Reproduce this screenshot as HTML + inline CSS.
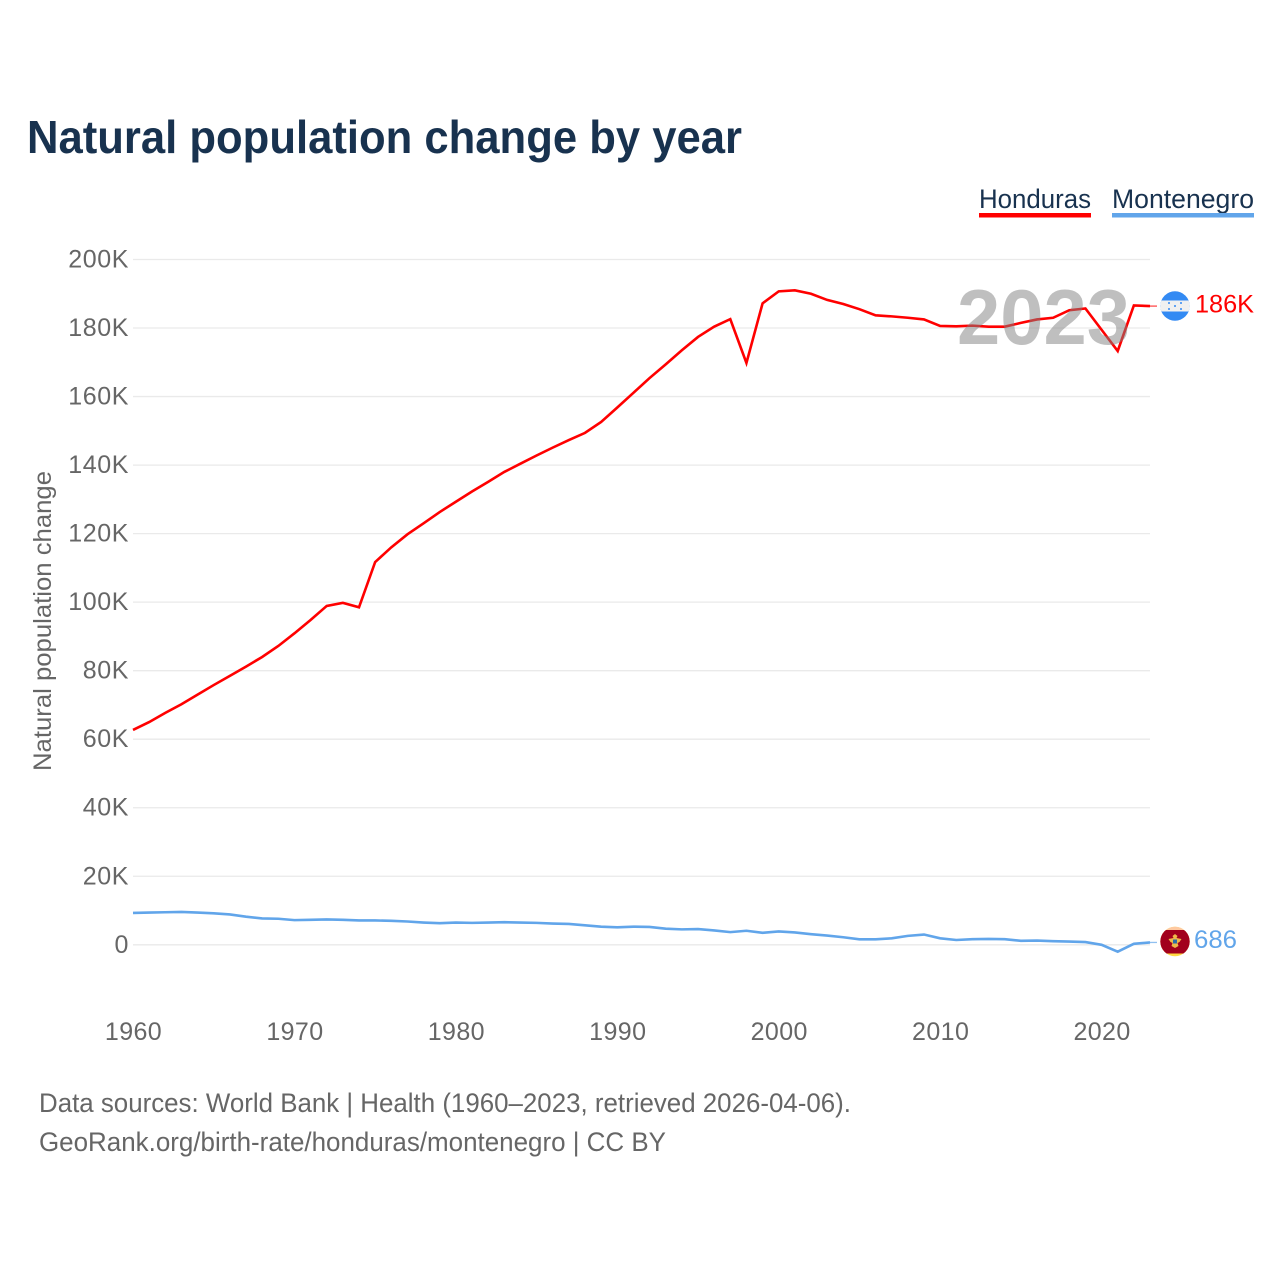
<!DOCTYPE html>
<html lang="en">
<head>
<meta charset="utf-8">
<title>Natural population change by year</title>
<style>
  html, body { margin: 0; padding: 0; background: #fff; }
  svg { display: block; font-family: "Liberation Sans", sans-serif; }
</style>
</head>
<body>
<svg id="chart" xmlns="http://www.w3.org/2000/svg" width="1280" height="1280" viewBox="0 0 1280 1280">
  <rect x="0" y="0" width="1280" height="1280" fill="#ffffff"/>
  <text x="27" y="153" font-size="46" font-weight="700" fill="#18324f" textLength="715" lengthAdjust="spacingAndGlyphs">Natural population change by year</text>

  <g>
    <text x="979" y="208" font-size="27" fill="#18324f" textLength="112" lengthAdjust="spacingAndGlyphs">Honduras</text>
    <rect x="979" y="213" width="112" height="4.5" fill="#ff0000"/>
  </g>
  <g>
    <text x="1112" y="208" font-size="27" fill="#18324f" textLength="142" lengthAdjust="spacingAndGlyphs">Montenegro</text>
    <rect x="1112" y="213" width="142" height="4.5" fill="#61a5ea"/>
  </g>

  <g id="grid"></g>
  <g id="yticks"></g>
  <g id="xticks"></g>
  <text transform="translate(51 621) rotate(-90)" text-anchor="middle" font-size="25" fill="#666666" textLength="300" lengthAdjust="spacingAndGlyphs">Natural population change</text>

  <g id="series"></g>

  <text x="957" y="344" font-size="78" font-weight="700" fill="#808080" fill-opacity="0.5" textLength="173" lengthAdjust="spacingAndGlyphs">2023</text>

  <defs>
    <clipPath id="clip-hn"><circle cx="1175" cy="306" r="14.7"/></clipPath>
    <clipPath id="clip-me"><circle cx="1175" cy="941.5" r="14.7"/></clipPath>
  </defs>

  <g clip-path="url(#clip-hn)">
    <rect x="1160" y="291" width="30" height="30" fill="#338af3"/>
    <rect x="1160" y="300.5" width="30" height="11" fill="#f0f0f0"/>
    <g fill="#338af3">
      <circle cx="1169" cy="303" r="1"/>
      <circle cx="1181" cy="303" r="1"/>
      <circle cx="1175" cy="306" r="1"/>
      <circle cx="1169" cy="309" r="1"/>
      <circle cx="1181" cy="309" r="1"/>
    </g>
  </g>
  <text id="label-hn" x="1195" y="312.5" font-size="25" fill="#ff0000" textLength="59" lengthAdjust="spacingAndGlyphs">186K</text>

  <g clip-path="url(#clip-me)">
    <rect x="1160" y="926" width="30" height="31" fill="#ffda44"/>
    <rect x="1160" y="926" width="30" height="4" fill="#ffc9a0"/>
    <rect x="1160" y="930" width="30" height="23.5" fill="#a2001d"/>
    <path d="M1175 934 l2.5 2 -1 2 5 1 -2 3 -2 1 1 3 -3.5 2 -3.5 -2 1 -3 -2 -1 -2 -3 5 -1 -1 -2z" fill="#eeb94a"/>
    <rect x="1173" y="939.5" width="4" height="4" fill="#2e6ea8"/>
  </g>
  <text id="label-me" x="1194" y="948" font-size="25" fill="#61a5ea" textLength="43" lengthAdjust="spacingAndGlyphs">686</text>

  <text x="39" y="1112" font-size="27" fill="#666666" textLength="812" lengthAdjust="spacingAndGlyphs">Data sources: World Bank | Health (1960–2023, retrieved 2026-04-06).</text>
  <text x="39" y="1151" font-size="27" fill="#666666" textLength="627" lengthAdjust="spacingAndGlyphs">GeoRank.org/birth-rate/honduras/montenegro | CC BY</text>
</svg>
<script>
const years = [1960,1961,1962,1963,1964,1965,1966,1967,1968,1969,1970,1971,1972,1973,1974,1975,1976,1977,1978,1979,1980,1981,1982,1983,1984,1985,1986,1987,1988,1989,1990,1991,1992,1993,1994,1995,1996,1997,1998,1999,2000,2001,2002,2003,2004,2005,2006,2007,2008,2009,2010,2011,2012,2013,2014,2015,2016,2017,2018,2019,2020,2021,2022,2023];
const honduras = [62.7,65,67.7,70.2,73,75.8,78.5,81.2,84,87.2,90.9,94.8,98.9,99.8,98.5,111.7,116,119.8,123,126.3,129.3,132.3,135.1,138,140.4,142.8,145.1,147.3,149.4,152.6,156.8,161.1,165.4,169.4,173.5,177.4,180.4,182.6,169.8,187.2,190.7,191,190,188.2,187,185.5,183.7,183.4,183,182.5,180.6,180.5,180.7,180.4,180.4,181.5,182.5,183,185.2,185.7,179.5,173.3,186.6,186.4];
const montenegro = [9.3,9.4,9.5,9.6,9.4,9.2,8.85,8.2,7.7,7.6,7.2,7.3,7.4,7.3,7.1,7.1,7,6.8,6.5,6.3,6.5,6.4,6.5,6.6,6.5,6.4,6.2,6.1,5.7,5.3,5.1,5.3,5.2,4.7,4.5,4.6,4.2,3.7,4.1,3.5,3.9,3.6,3.1,2.7,2.2,1.6,1.6,1.9,2.6,3,1.9,1.4,1.65,1.7,1.65,1.17,1.25,1.05,0.95,0.8,0,-2,0.3,0.686];
const yTickValues = [0,20,40,60,80,100,120,140,160,180,200];
const yTickLabels = ["0","20K","40K","60K","80K","100K","120K","140K","160K","180K","200K"];
const xTickValues = [1960,1970,1980,1990,2000,2010,2020];
const xTickLabels = ["1960","1970","1980","1990","2000","2010","2020"];

const NS = 'http://www.w3.org/2000/svg';
function xScale(year) { return 133 + (year - 1960) * (1150 - 133) / 63; }
function yScale(v) { return 944.8 - v * (944.8 - 259.5) / 200; }

const grid = document.getElementById('grid');
const yticks = document.getElementById('yticks');
const xticks = document.getElementById('xticks');
const series = document.getElementById('series');

yTickValues.forEach(function (v, i) {
  const line = document.createElementNS(NS, 'line');
  
  
  line.setAttribute('x1', 133);
  line.setAttribute('x2', 1150);
  line.setAttribute('y1', yScale(v));
  line.setAttribute('y2', yScale(v));
  line.setAttribute('stroke', '#eaeaea');
  line.setAttribute('stroke-width', '1.3');
  grid.appendChild(line);

  const t = document.createElementNS(NS, 'text');
  
  
  t.setAttribute('x', 129);
  t.setAttribute('y', yScale(v) + 8);
  t.setAttribute('text-anchor', 'end');
  t.setAttribute('font-size', '25');
  t.setAttribute('letter-spacing', '0.6');
  t.setAttribute('fill', '#666666');
  t.textContent = yTickLabels[i];
  yticks.appendChild(t);
});

xTickValues.forEach(function (v, i) {
  const t = document.createElementNS(NS, 'text');
  
  
  t.setAttribute('x', xScale(v) + 0.5);
  t.setAttribute('y', 1040);
  t.setAttribute('text-anchor', 'middle');
  t.setAttribute('font-size', '25');
  t.setAttribute('letter-spacing', '0.4');
  t.setAttribute('fill', '#666666');
  t.textContent = xTickLabels[i];
  xticks.appendChild(t);
});

function pathFor(values) {
  return values.map(function (v, i) {
    return (i ? 'L' : 'M') + xScale(years[i]).toFixed(2) + ' ' + yScale(v).toFixed(2);
  }).join(' ');
}

const hnConnector = document.createElementNS(NS, 'line');


hnConnector.setAttribute('x1', xScale(2023));
hnConnector.setAttribute('x2', xScale(2023) + 7);
hnConnector.setAttribute('y1', yScale(honduras[honduras.length - 1]));
hnConnector.setAttribute('y2', yScale(honduras[honduras.length - 1]));
hnConnector.setAttribute('stroke', '#ff0000');
hnConnector.setAttribute('stroke-opacity', '0.7');
hnConnector.setAttribute('stroke-width', '1.3');
series.appendChild(hnConnector);

const meConnector = document.createElementNS(NS, 'line');


meConnector.setAttribute('x1', xScale(2023));
meConnector.setAttribute('x2', xScale(2023) + 7);
meConnector.setAttribute('y1', yScale(montenegro[montenegro.length - 1]));
meConnector.setAttribute('y2', yScale(montenegro[montenegro.length - 1]));
meConnector.setAttribute('stroke', '#61a5ea');
meConnector.setAttribute('stroke-opacity', '0.7');
meConnector.setAttribute('stroke-width', '1.3');
series.appendChild(meConnector);

const hnLine = document.createElementNS(NS, 'path');


hnLine.setAttribute('d', pathFor(honduras));
hnLine.setAttribute('fill', 'none');
hnLine.setAttribute('stroke', '#ff0000');
hnLine.setAttribute('stroke-width', '2.6');
hnLine.setAttribute('stroke-linejoin', 'miter');
series.appendChild(hnLine);

const meLine = document.createElementNS(NS, 'path');


meLine.setAttribute('d', pathFor(montenegro));
meLine.setAttribute('fill', 'none');
meLine.setAttribute('stroke', '#61a5ea');
meLine.setAttribute('stroke-width', '2.6');
meLine.setAttribute('stroke-linejoin', 'miter');
series.appendChild(meLine);
</script>
</body>
</html>
